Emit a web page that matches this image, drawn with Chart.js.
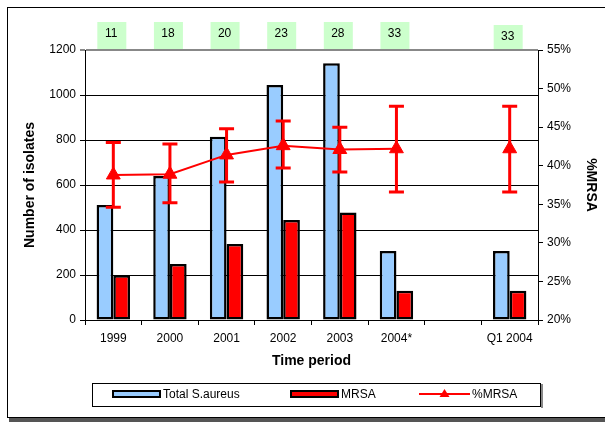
<!DOCTYPE html>
<html>
<head>
<meta charset="utf-8">
<script src="https://cdn.jsdelivr.net/npm/chart.js@4"></script>
<style>
  html, body { margin: 0; padding: 0; background: #fff; }
  #wrap { width: 605px; height: 422px; }
</style>
</head>
<body>
<div id="wrap"><canvas id="mrsaChart" width="605" height="422"></canvas></div>
<script>
const periods = ['1999', '2000', '2001', '2002', '2003', '2004*', '', 'Q1 2004'];
const totalSaureus = [511, 640, 815, 1044, 1141, 307, null, 307];
const mrsaCounts = [199, 249, 338, 444, 478, 130, null, 130];
const pctMrsa = [38.8, 38.9, 41.4, 42.6, 42.1, 42.2, null, 42.2];
const pctLow = [34.6, 35.2, 37.9, 39.7, 39.2, 36.6, null, 36.6];
const pctHigh = [43.0, 42.8, 44.8, 45.8, 45.0, 47.7, null, 47.7];
const labCounts = ['11', '18', '20', '23', '28', '33', '', '33'];

const FONT = 'Arial, "Liberation Sans", sans-serif';
Chart.defaults.font.family = FONT;
Chart.defaults.color = '#000';

// Frame, legend box and the green count boxes
const framePlugin = {
    id: 'frame',
    beforeDraw(chart) {
        const ctx = chart.ctx;
        ctx.save();
        ctx.fillStyle = '#555';
        ctx.fillRect(9, 418, 600, 4);
        ctx.strokeStyle = '#000';
        ctx.lineWidth = 1;
        ctx.strokeRect(7.5, 7.5, 610, 410);
        ctx.restore();
    },
    afterDraw(chart) {
        const ctx = chart.ctx;
        const x = chart.scales.x;
        const area = chart.chartArea;
        const ds = chart.data.datasets;
        ctx.save();

        // legend
        ctx.strokeStyle = '#000';
        ctx.lineWidth = 1;
        ctx.strokeRect(92.5, 383.5, 448, 23);
        ctx.fillStyle = '#888';
        ctx.fillRect(541, 384, 2, 24);

        const ly = 394;
        ctx.font = '12px ' + FONT;
        ctx.textAlign = 'left';
        ctx.textBaseline = 'middle';
        [[113, 0], [291, 1]].forEach(([lx, i]) => {
            ctx.fillStyle = ds[i].backgroundColor;
            ctx.fillRect(lx, ly - 3, 47, 6);
            ctx.strokeStyle = '#000';
            ctx.lineWidth = 2;
            ctx.strokeRect(lx, ly - 3, 47, 6);
            ctx.fillStyle = '#000';
            ctx.fillText(ds[i].label, lx + 50, ly + 1);
        });
        ctx.strokeStyle = '#ff0000';
        ctx.lineWidth = 2;
        ctx.beginPath();
        ctx.moveTo(419, ly);
        ctx.lineTo(470, ly);
        ctx.stroke();
        ctx.fillStyle = '#ff0000';
        ctx.beginPath();
        ctx.moveTo(444.5, ly - 5);
        ctx.lineTo(449.5, ly + 3);
        ctx.lineTo(439.5, ly + 3);
        ctx.closePath();
        ctx.fill();
        ctx.fillStyle = '#000';
        ctx.fillText(ds[2].label, 472, ly + 1);

        // green count boxes above each period
        ctx.textAlign = 'center';
        labCounts.forEach((lab, i) => {
            if (!lab) return;
            const cx = x.getPixelForValue(i) - 2;
            const top = i === labCounts.length - 1 ? 25 : 22;
            ctx.fillStyle = '#ccffcc';
            ctx.fillRect(cx - 14, top, 29, area.top - top - 1);
            ctx.fillStyle = '#000';
            ctx.fillText(lab, cx, top + 12);
        });
        ctx.restore();
    }
};

const errorBarPlugin = {
    id: 'errorBars',
    afterDatasetsDraw(chart) {
        const ctx = chart.ctx;
        const x = chart.scales.x;
        const y1 = chart.scales.y1;
        ctx.save();
        ctx.strokeStyle = '#ff0000';
        ctx.lineWidth = 3;
        pctMrsa.forEach((v, i) => {
            if (v === null) return;
            const px = x.getPixelForValue(i);
            const top = y1.getPixelForValue(pctHigh[i]);
            const bot = y1.getPixelForValue(pctLow[i]);
            ctx.beginPath();
            ctx.moveTo(px, top);
            ctx.lineTo(px, bot);
            ctx.moveTo(px - 7.5, top);
            ctx.lineTo(px + 7.5, top);
            ctx.moveTo(px - 7.5, bot);
            ctx.lineTo(px + 7.5, bot);
            ctx.stroke();
        });
        ctx.restore();
    }
};

new Chart(document.getElementById('mrsaChart'), {
    type: 'bar',
    data: {
        labels: periods,
        datasets: [
            {
                label: 'Total S.aureus',
                data: totalSaureus,
                backgroundColor: '#99ccff',
                borderColor: '#000',
                borderWidth: 2.5,
                borderSkipped: false,
                categoryPercentage: 0.59,
                barPercentage: 1.0,
                yAxisID: 'y',
                order: 1
            },
            {
                label: 'MRSA',
                data: mrsaCounts,
                backgroundColor: '#ff0000',
                borderColor: '#000',
                borderWidth: 2.5,
                borderSkipped: false,
                categoryPercentage: 0.59,
                barPercentage: 1.0,
                yAxisID: 'y',
                order: 1
            },
            {
                type: 'line',
                label: '%MRSA',
                data: pctMrsa,
                borderColor: '#ff0000',
                backgroundColor: '#ff0000',
                borderWidth: 2,
                pointStyle: 'triangle',
                pointRadius: 8,
                pointBorderWidth: 1,
                spanGaps: false,
                yAxisID: 'y1',
                order: 0
            }
        ]
    },
    options: {
        responsive: false,
        animation: false,
        layout: { padding: { left: 22, right: 6, top: 50, bottom: 52 } },
        plugins: {
            tooltip: { enabled: false },
            legend: { display: false }
        },
        scales: {
            x: {
                offset: true,
                grid: {
                    offset: true,
                    drawOnChartArea: false,
                    tickLength: 5,
                    color: '#000'
                },
                border: { color: '#000', width: 1 },
                ticks: { font: { size: 12 }, padding: 6, maxRotation: 0 },
                title: {
                    display: true,
                    text: 'Time period',
                    font: { size: 14, weight: 'bold' },
                    padding: { top: 4, bottom: 0 }
                },
                afterFit: s => { s.height = 50; }
            },
            y: {
                position: 'left',
                min: 0,
                max: 1200,
                ticks: { stepSize: 200, font: { size: 12 }, padding: 4, callback: v => String(v) },
                grid: {
                    color: c => (c.tick && c.tick.value === 1200 ? '#888' : '#000'),
                    lineWidth: c => (c.tick && c.tick.value === 1200 ? 2 : 1),
                    tickLength: 5
                },
                border: { color: '#000', width: 1 },
                title: {
                    display: true,
                    text: 'Number of isolates',
                    font: { size: 14, weight: 'bold' },
                    padding: { top: 0, bottom: 0 }
                },
                afterFit: s => { s.width = 63; }
            },
            y1: {
                position: 'right',
                min: 20,
                max: 55,
                ticks: {
                    stepSize: 5,
                    font: { size: 12 },
                    padding: 4,
                    callback: v => v + '%'
                },
                grid: { drawOnChartArea: false, tickLength: 5, color: '#000' },
                border: { color: '#000', width: 1 },
                title: {
                    display: true,
                    text: '%MRSA',
                    font: { size: 14, weight: 'bold' },
                    padding: { top: 0, bottom: 0 }
                },
                afterFit: s => { s.width = 61; }
            }
        }
    },
    plugins: [framePlugin, errorBarPlugin]
});
</script>
</body>
</html>
